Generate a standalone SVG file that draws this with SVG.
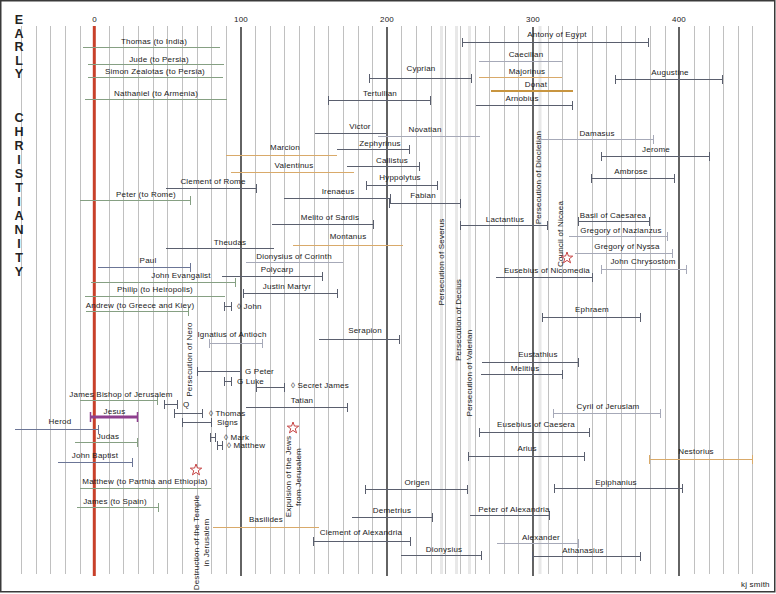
<svg xmlns="http://www.w3.org/2000/svg" width="776" height="594" viewBox="0 0 776 594">
<defs>
<style>
.t{font-family:"Liberation Sans",Arial,sans-serif;font-size:8px;fill:#1a1a1a;letter-spacing:.2px;text-anchor:middle}
.s{text-anchor:start}
.big{font-family:"Liberation Sans",Arial,sans-serif;font-size:12.5px;font-weight:bold;fill:#222;text-anchor:middle}
.d,.g,.lg,.o,.b,.p{fill:none;stroke-width:1}
.d{stroke:#5a5f6e}
.g{stroke:#86a083}
.lg{stroke:#a6a9b8}
.o{stroke:#d9aa6a}
.b{stroke:#6b7596}
.star{fill:#fff;stroke:#c03030;stroke-width:.9}
</style>
<path id="star" d="M0,-6 L1.41,-1.94 L5.71,-1.85 L2.28,0.74 L3.53,4.85 L0,2.4 L-3.53,4.85 L-2.28,0.74 L-5.71,-1.85 L-1.41,-1.94 Z"/>
</defs>
<rect x="0.75" y="0.75" width="774" height="591" fill="#fff" stroke="#3a3a3a" stroke-width="1.5"/>
<g id="grid">
<path d="M441.5 26V574M456.5 26V574M469.5 26V574M540 26V574" stroke="#e8e8e8" stroke-width="3" fill="none"/>
<path fill="none" stroke="#c0c0c0" stroke-width="1" d="M21.5 26V574M36.5 26V574M50.5 26V574M65.5 26V574M80.5 26V574M109.5 26V574M123.5 26V574M138.5 26V574M153.5 26V574M167.5 26V574M182.5 26V574M197.5 26V574M211.5 26V574M226.5 26V574M255.5 26V574M270.5 26V574M284.5 26V574M299.5 26V574M314.5 26V574M328.5 26V574M343.5 26V574M358.5 26V574M372.5 26V574M401.5 26V574M416.5 26V574M431.5 26V574M445.5 26V574M460.5 26V574M475.5 26V574M489.5 26V574M504.5 26V574M518.5 26V574M548.5 26V574M562.5 26V574M577.5 26V574M592.5 26V574M606.5 26V574M621.5 26V574M635.5 26V574M650.5 26V574M665.5 26V574M694.5 26V574M709.5 26V574M723.5 26V574M738.5 26V574M752.5 26V574"/>
<path fill="none" stroke="#111" stroke-width="1.3" d="M241 27V576M387 27V576M533 27V576M679 27V576"/>
<path fill="none" stroke="#c8402a" stroke-width="3" d="M94.3 26V576"/>
<text class="t" x="94.5" y="22">0</text>
<text class="t" x="241" y="22">100</text>
<text class="t" x="387" y="22">200</text>
<text class="t" x="533" y="22">300</text>
<text class="t" x="679" y="22">400</text>
</g>
<g id="title">
<text class="big" x="19" y="24">E</text>
<text class="big" x="19" y="37.5">A</text>
<text class="big" x="19" y="51">R</text>
<text class="big" x="19" y="64.5">L</text>
<text class="big" x="19" y="78">Y</text>
<text class="big" x="19" y="122">C</text>
<text class="big" x="19" y="136">H</text>
<text class="big" x="19" y="150">R</text>
<text class="big" x="19" y="164">I</text>
<text class="big" x="19" y="178">S</text>
<text class="big" x="19" y="192">T</text>
<text class="big" x="19" y="206">I</text>
<text class="big" x="19" y="220">A</text>
<text class="big" x="19" y="234">N</text>
<text class="big" x="19" y="248">I</text>
<text class="big" x="19" y="262">T</text>
<text class="big" x="19" y="276">Y</text>
</g>
<g id="events">
<text class="t" transform="rotate(-90 191.5 359.5)" x="191.5" y="359.5">Persecution of Nero</text>
<text class="t" transform="rotate(-90 444 262)" x="444" y="262">Persecution of Severus</text>
<text class="t" transform="rotate(-90 460.5 320)" x="460.5" y="320">Persecution of Decius</text>
<text class="t" transform="rotate(-90 472 373)" x="472" y="373">Persecution of Valerian</text>
<text class="t" transform="rotate(-90 541 177.5)" x="541" y="177.5">Persecution of Diocletian</text>
<text class="t" transform="rotate(-90 563 234)" x="563" y="234">Council of Nicaea</text>
<text class="t" transform="rotate(-90 199 542.5)" x="199" y="542.5">Destruction of the Temple</text>
<text class="t" transform="rotate(-90 209 542.5)" x="209" y="542.5">in Jerusalem</text>
<text class="t" transform="rotate(-90 291 476.5)" x="291" y="476.5">Expulsion of the Jews</text>
<text class="t" transform="rotate(-90 301 477)" x="301" y="477">from Jerusalem</text>
<use href="#star" class="star" x="196" y="470"/>
<use href="#star" class="star" x="293" y="428"/>
<use href="#star" class="star" x="567" y="258"/>
</g>
<g id="thomas-india"><path class="g" d="M83 47.5H220"/><text class="t" x="154" y="44">Thomas  (to India)</text></g>
<g id="jude"><path class="g" d="M88 64.5H224"/><text class="t" x="159" y="62">Jude  (to Persia)</text></g>
<g id="simon"><path class="g" d="M88 77.5H223"/><text class="t" x="155" y="74">Simon Zealotas (to Persia)</text></g>
<g id="nathaniel"><path class="g" d="M85 99.5H227"/><text class="t" x="156" y="96">Nathaniel  (to Armenia)</text></g>
<g id="antony"><path class="d" d="M462.5 38v9M462 42.5H648M648.5 38v9"/><text class="t" x="557" y="37">Antony of Egypt</text></g>
<g id="caecilian"><path class="lg" d="M479 61.5H562"/><text class="t" x="526" y="57">Caecilian</text></g>
<g id="cyprian"><path class="d" d="M369.5 74v9M369 78.5H471M471.5 74v9"/><text class="t" x="421" y="71">Cyprian</text></g>
<g id="majorinus"><path class="o" d="M479 77.5H562"/><text class="t" x="527" y="74">Majorinus</text></g>
<g id="augustine"><path class="d" d="M615.5 75v9M615 79.5H722M722.5 75v9"/><text class="t" x="670" y="75">Augustine</text></g>
<g id="donat"><path class="o" style="stroke:#c89540;stroke-width:2" d="M491 91H573"/><text class="t" x="536" y="87">Donat</text></g>
<g id="arnobius"><path class="d" d="M476 105.5H572M572.5 101v9"/><text class="t" x="522" y="101">Arnobius</text></g>
<g id="tertullian"><path class="d" d="M328.5 96v9M328 100.5H430M430.5 96v9"/><text class="t" x="380" y="96">Tertullian</text></g>
<g id="victor"><path class="d" d="M315 133.5H387"/><text class="t" x="360" y="129">Victor</text></g>
<g id="novatian"><path class="lg" d="M378 136.5H480"/><text class="t" x="425" y="132">Novatian</text></g>
<g id="damasus"><path class="lg" d="M540 139.5H653M653.5 135v9"/><text class="t" x="597" y="136">Damasus</text></g>
<g id="zephyrinus"><path class="d" d="M337 149.5H409M409.5 145v9"/><text class="t" x="380" y="146">Zephyrinus</text></g>
<g id="marcion"><path class="o" d="M226 155.5H337"/><text class="t" x="285" y="150">Marcion</text></g>
<g id="jerome"><path class="d" d="M601.5 152v9M601 156.5H709M709.5 152v9"/><text class="t" x="656" y="152">Jerome</text></g>
<g id="callistus"><path class="d" d="M347 166.5H419M419.5 162v9"/><text class="t" x="392" y="163">Callistus</text></g>
<g id="valentinus"><path class="o" d="M231 172.5H354"/><text class="t" x="294" y="168">Valentinus</text></g>
<g id="ambrose"><path class="d" d="M591.5 174v9M591 178.5H674M674.5 174v9"/><text class="t" x="631" y="174">Ambrose</text></g>
<g id="hyppolytus"><path class="d" d="M366.5 181v9M366 185.5H437M437.5 181v9"/><text class="t" x="400" y="180">Hyppolytus</text></g>
<g id="clement-rome"><path class="d" d="M166 188.5H256M256.5 184v9"/><text class="t" x="213" y="184">Clement of Rome</text></g>
<g id="irenaeus"><path class="d" d="M284 198.5H390M390.5 194v9"/><text class="t" x="338" y="194">Irenaeus</text></g>
<g id="fabian"><path class="d" d="M389.5 199v9M389 203.5H460M460.5 199v9"/><text class="t" x="423" y="198">Fabian</text></g>
<g id="peter-rome"><path class="g" d="M80 200.5H190M190.5 196v9"/><text class="t" x="146" y="197">Peter  (to Rome)</text></g>
<g id="lactantius"><path class="d" d="M460.5 221v9M460 225.5H547M547.5 221v9"/><text class="t" x="505" y="222">Lactantius</text></g>
<g id="basil"><path class="d" d="M578.5 217v9M578 221.5H649M649.5 217v9"/><text class="t" x="613" y="218">Basil of Caesarea</text></g>
<g id="melito"><path class="d" d="M272 224.5H373M373.5 220v9"/><text class="t" x="330" y="220">Melito of Sardis</text></g>
<g id="gregory-nazianzus"><path class="lg" d="M569 236.5H667M667.5 232v9"/><text class="t" x="621" y="233">Gregory of Nazianzus</text></g>
<g id="montanus"><path class="o" d="M293 245.5H403"/><text class="t" x="348" y="239">Montanus</text></g>
<g id="theudas"><path class="d" d="M166 248.5H274"/><text class="t" x="230" y="245">Theudas</text></g>
<g id="gregory-nyssa"><path class="lg" d="M575 253.5H672M672.5 249v9"/><text class="t" x="627" y="249">Gregory of Nyssa</text></g>
<g id="dionysius-corinth"><path class="lg" d="M246 262.5H343"/><text class="t" x="294" y="259">Dionysius of Corinth</text></g>
<g id="paul"><path class="b" d="M98 267.5H190M190.5 263v9"/><text class="t" x="148" y="263">Paul</text></g>
<g id="chrysostom"><path class="lg" d="M601.5 265v9M601 269.5H686M686.5 265v9"/><text class="t" x="643" y="264">John  Chrysostom</text></g>
<g id="eusebius-nicomedia"><path class="d" d="M496 277.5H592M592.5 273v9"/><text class="t" x="547" y="273">Eusebius of Nicomedia</text></g>
<g id="polycarp"><path class="d" d="M222 276.5H322M322.5 272v9"/><text class="t" x="277" y="272">Polycarp</text></g>
<g id="john-evangalist"><path class="g" d="M91 282.5H235M235.5 278v9"/><text class="t" x="181" y="278">John  Evangalist</text></g>
<g id="justin"><path class="d" d="M243.5 289v9M243 293.5H337M337.5 289v9"/><text class="t" x="287" y="289">Justin  Martyr</text></g>
<g id="philip"><path class="g" d="M85 296.5H225"/><text class="t" x="155" y="292">Philip  (to Heiropolis)</text></g>
<g id="andrew"><path class="g" d="M86 311.5H188M188.5 307v9"/><text class="t" x="140" y="308">Andrew  (to Greece and Kiev)</text></g>
<g id="gospel-john"><path class="d" d="M224.5 302v9M224 306.5H231M231.5 302v9"/><text class="t s" x="237" y="309">◊ John</text></g>
<g id="ephraem"><path class="d" d="M542.5 313v9M542 317.5H640M640.5 313v9"/><text class="t" x="592" y="312">Ephraem</text></g>
<g id="serapion"><path class="d" d="M319 339.5H399M399.5 335v9"/><text class="t" x="365" y="333">Serapion</text></g>
<g id="ignatius"><path class="lg" d="M209.5 339v9M209 343.5H262M262.5 339v9"/><text class="t" x="232" y="337">Ignatius of Antioch</text></g>
<g id="eustathius"><path class="d" d="M482 362.5H578M578.5 358v9"/><text class="t" x="538" y="357">Eustathius</text></g>
<g id="gospel-peter"><path class="d" d="M197.5 367v9M197 371.5H240M240.5 367v9"/><text class="t s" x="245" y="374">G Peter</text></g>
<g id="melitius"><path class="d" d="M481 374.5H562M562.5 370v9"/><text class="t" x="525" y="371">Melitius</text></g>
<g id="gospel-luke"><path class="d" d="M224.5 377v9M224 381.5H231M231.5 377v9"/><text class="t s" x="237" y="384">G Luke</text></g>
<g id="secret-james"><path class="d" d="M256.5 383v9M256 387.5H284M284.5 383v9"/><text class="t s" x="291" y="388">◊ Secret James</text></g>
<g id="james-bishop"><path class="g" d="M80 400.5H157M157.5 396v9"/><text class="t" x="121" y="397">James Bishop  of Jerusalem</text></g>
<g id="q"><path class="d" d="M164.5 400v9M164 404.5H177M177.5 400v9"/><text class="t s" x="183" y="407">Q</text></g>
<g id="tatian"><path class="d" d="M246 407.5H347M347.5 403v9"/><text class="t" x="302" y="403">Tatian</text></g>
<g id="cyril"><path class="lg" d="M553.5 409v9M553 413.5H660M660.5 409v9"/><text class="t" x="608" y="409">Cyril of Jeruslam</text></g>
<g id="jesus"><path fill="none" stroke="#8e3f8e" stroke-width="1.5" d="M90.5 412v10M137.5 412v10"/><path fill="none" stroke="#8e3f8e" stroke-width="3" d="M90 417H137"/><text class="t" x="114.5" y="414">Jesus</text></g>
<g id="gospel-thomas"><path class="d" d="M174.5 409v9M174 413.5H202M202.5 409v9"/><text class="t s" x="209" y="416">◊ Thomas</text></g>
<g id="signs"><path class="d" d="M182.5 418v9M182 422.5H211M211.5 418v9"/><text class="t s" x="217" y="425">Signs</text></g>
<g id="herod"><path class="b" d="M15 429.5H98M98.5 425v9"/><text class="t" x="60" y="424">Herod</text></g>
<g id="eusebius-caesera"><path class="d" d="M479.5 428v9M479 432.5H589M589.5 428v9"/><text class="t" x="536" y="427">Eusebius of Caesera</text></g>
<g id="gospel-mark"><path class="d" d="M210.5 433v9M210 437.5H215M215.5 433v9"/><text class="t s" x="224" y="440">◊ Mark</text></g>
<g id="judas"><path class="g" d="M75 442.5H137M137.5 438v9"/><text class="t" x="108" y="439">Judas</text></g>
<g id="gospel-matthew"><path class="d" d="M217.5 441v9M217 445.5H222M222.5 441v9"/><text class="t s" x="227" y="448">◊ Matthew</text></g>
<g id="arius"><path class="d" d="M468.5 452v9M468 456.5H584M584.5 452v9"/><text class="t" x="527" y="451">Arius</text></g>
<g id="nestorius"><path class="o" d="M649.5 455v9M649 459.5H752M752.5 455v9"/><text class="t" x="696" y="454">Nestorius</text></g>
<g id="john-baptist"><path class="b" d="M58 462.5H132M132.5 458v9"/><text class="t" x="95" y="458">John Baptist</text></g>
<g id="matthew-parthia"><path class="g" d="M80 488.5H211"/><text class="t" x="145" y="484">Matthew  (to Parthia and Ethiopia)</text></g>
<g id="origen"><path class="d" d="M365.5 485v9M365 489.5H467M467.5 485v9"/><text class="t" x="417" y="485">Origen</text></g>
<g id="epiphanius"><path class="d" d="M554.5 484v9M554 488.5H682M682.5 484v9"/><text class="t" x="616" y="485">Epiphanius</text></g>
<g id="james-spain"><path class="g" d="M77 507.5H158M158.5 503v9"/><text class="t" x="115" y="504">James  (to Spain)</text></g>
<g id="peter-alexandria"><path class="d" d="M470 515.5H549M549.5 511v9"/><text class="t" x="514" y="512">Peter of Alexandria</text></g>
<g id="demetrius"><path class="d" d="M352 517.5H432M432.5 513v9"/><text class="t" x="392" y="513">Demetrius</text></g>
<g id="basilides"><path class="o" d="M213 527.5H319"/><text class="t" x="266" y="522">Basilides</text></g>
<g id="clement-alexandria"><path class="d" d="M313.5 537v9M313 541.5H410M410.5 537v9"/><text class="t" x="361" y="535">Clement of Alexandria</text></g>
<g id="alexander"><path class="lg" d="M497 543.5H578M578.5 539v9"/><text class="t" x="541" y="540">Alexander</text></g>
<g id="dionysius"><path class="d" d="M401 555.5H481M481.5 551v9"/><text class="t" x="444" y="552">Dionysius</text></g>
<g id="athanasius"><path class="d" d="M532.5 552v9M532 556.5H640M640.5 552v9"/><text class="t" x="583" y="553">Athanasius</text></g>
<text class="t s" x="741" y="587">kj smith</text>
</svg>
